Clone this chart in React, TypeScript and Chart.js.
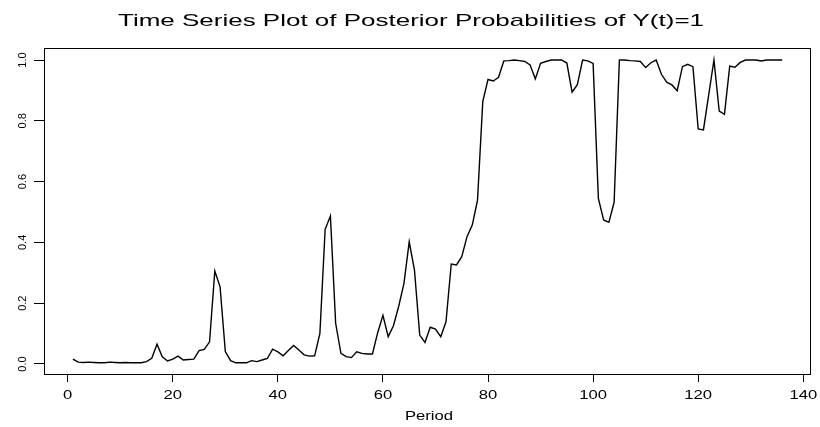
import React, { useEffect, useRef } from "react";
import { Chart, registerables } from "chart.js";

Chart.register(...registerables);

const titleText = "Time Series Plot of Posterior Probabilities of Y(t)=1";
const xAxisLabel = "Period";
const xTicks = [0, 20, 40, 60, 80, 100, 120, 140];
const xTickLabels = ["0", "20", "40", "60", "80", "100", "120", "140"];
const yTicks = [0, 0.2, 0.4, 0.6, 0.8, 1.0];
const yTickLabels = ["0.0", "0.2", "0.4", "0.6", "0.8", "1.0"];

const posterior = [
  0.016, 0.006, 0.005, 0.006, 0.005, 0.004, 0.004, 0.006, 0.005, 0.004,
  0.005, 0.004, 0.004, 0.004, 0.008, 0.019, 0.065, 0.024, 0.010, 0.016,
  0.026, 0.013, 0.015, 0.016, 0.044, 0.048, 0.073, 0.306, 0.254, 0.041,
  0.011, 0.004, 0.004, 0.004, 0.011, 0.008, 0.013, 0.018, 0.049, 0.040,
  0.027, 0.044, 0.061, 0.046, 0.030, 0.026, 0.027, 0.101, 0.443, 0.487,
  0.134, 0.035, 0.024, 0.021, 0.040, 0.035, 0.033, 0.033, 0.103, 0.160,
  0.090, 0.126, 0.190, 0.265, 0.402, 0.309, 0.095, 0.071, 0.121, 0.115,
  0.090, 0.139, 0.329, 0.326, 0.353, 0.419, 0.457, 0.539, 0.863, 0.936,
  0.931, 0.943, 0.997, 0.998, 1.000, 0.998, 0.995, 0.984, 0.938, 0.989,
  0.995, 1.000, 1.000, 1.000, 0.990, 0.894, 0.919, 1.000, 0.997, 0.989,
  0.545, 0.474, 0.466, 0.532, 1.000, 1.000, 0.998, 0.997, 0.995, 0.975,
  0.991, 1.000, 0.953, 0.927, 0.918, 0.899, 0.978, 0.986, 0.978, 0.773,
  0.770, 0.885, 1.000, 0.832, 0.821, 0.980, 0.976, 0.992, 1.000, 1.000,
  1.000, 0.997, 1.000, 1.000, 1.000, 1.000,
];
const periods = posterior.map((_, i) => i + 1);

const FONT = "'Liberation Sans', Arial, Helvetica, sans-serif";

function drawStretched(
  ctx: CanvasRenderingContext2D,
  text: string,
  x: number,
  y: number,
  size: number,
  sx: number
) {
  ctx.save();
  ctx.translate(x, y);
  ctx.scale(sx, 1);
  ctx.font = `${size}px ${FONT}`;
  ctx.textAlign = "center";
  ctx.textBaseline = "alphabetic";
  ctx.fillText(text, 0, 0);
  ctx.restore();
}

export default function App() {
  const ref = useRef<HTMLCanvasElement>(null);

  useEffect(() => {
    document.body.style.margin = "0";
    const canvas = ref.current;
    if (!canvas) return;

    const textPlugin = {
      id: "rText",
      afterDraw(chart: any) {
        const { ctx, chartArea: a, scales } = chart;
        const xs = scales.x;
        const ys = scales.y;
        ctx.save();
        // plot box
        ctx.strokeStyle = "#000";
        ctx.lineWidth = 1;
        ctx.strokeRect(
          Math.round(a.left) + 0.5,
          Math.round(a.top) + 0.5,
          Math.round(a.right - a.left) - 1,
          Math.round(a.bottom - a.top)
        );
        ctx.fillStyle = "#000";
        // title
        ctx.font = `17px ${FONT}`;
        const tw = ctx.measureText(titleText).width;
        drawStretched(ctx, titleText, 411, 25.5, 17, 586 / tw);
        // x tick labels
        xTicks.forEach((v, i) => {
          drawStretched(ctx, xTickLabels[i], xs.getPixelForValue(v), 399, 13, 1.28);
        });
        // x axis title
        drawStretched(ctx, xAxisLabel, 429, 420, 13, 1.28);
        // y tick labels (rotated)
        yTicks.forEach((v, i) => {
          ctx.save();
          ctx.translate(26, ys.getPixelForValue(v));
          ctx.rotate(-Math.PI / 2);
          ctx.font = `11px ${FONT}`;
          ctx.textAlign = "center";
          ctx.textBaseline = "alphabetic";
          ctx.fillText(yTickLabels[i], 0, 0);
          ctx.restore();
        });
        ctx.restore();
      },
    };

    const chart = new Chart(canvas, {
      type: "line",
      data: {
        datasets: [
          {
            data: periods.map((p, i) => ({ x: p, y: posterior[i] })),
            borderColor: "#000",
            borderWidth: 1.4,
            pointRadius: 0,
            tension: 0,
            fill: false,
          },
        ],
      },
      options: {
        animation: false,
        responsive: false,
        maintainAspectRatio: false,
        layout: { padding: { top: 48, right: 9, left: 0, bottom: 0 } },
        plugins: {
          legend: { display: false },
          title: { display: false },
          tooltip: { enabled: false },
        },
        scales: {
          x: {
            type: "linear",
            position: "bottom",
            min: -4.51,
            max: 141.47,
            afterBuildTicks: (s: any) => {
              s.ticks = xTicks.map((v) => ({ value: v }));
            },
            afterFit: (s: any) => {
              s.height = 53;
            },
            ticks: { display: false },
            grid: {
              display: true,
              drawOnChartArea: false,
              drawTicks: true,
              tickLength: 8,
              color: "#000",
              lineWidth: 1,
            },
            border: { display: false },
          },
          y: {
            type: "linear",
            min: -0.0329,
            max: 1.0395,
            afterBuildTicks: (s: any) => {
              s.ticks = yTicks.map((v) => ({ value: v }));
            },
            afterFit: (s: any) => {
              s.width = 44;
            },
            ticks: { display: false },
            grid: {
              display: true,
              drawOnChartArea: false,
              drawTicks: true,
              tickLength: 10,
              color: "#000",
              lineWidth: 1,
            },
            border: { display: false },
          },
        },
      },
      plugins: [textPlugin],
    });

    return () => chart.destroy();
  }, []);

  return (
    <div style={{ width: 820, height: 427 }}>
      <canvas ref={ref} width={820} height={427} style={{ display: "block", width: 820, height: 427 }} />
    </div>
  );
}
